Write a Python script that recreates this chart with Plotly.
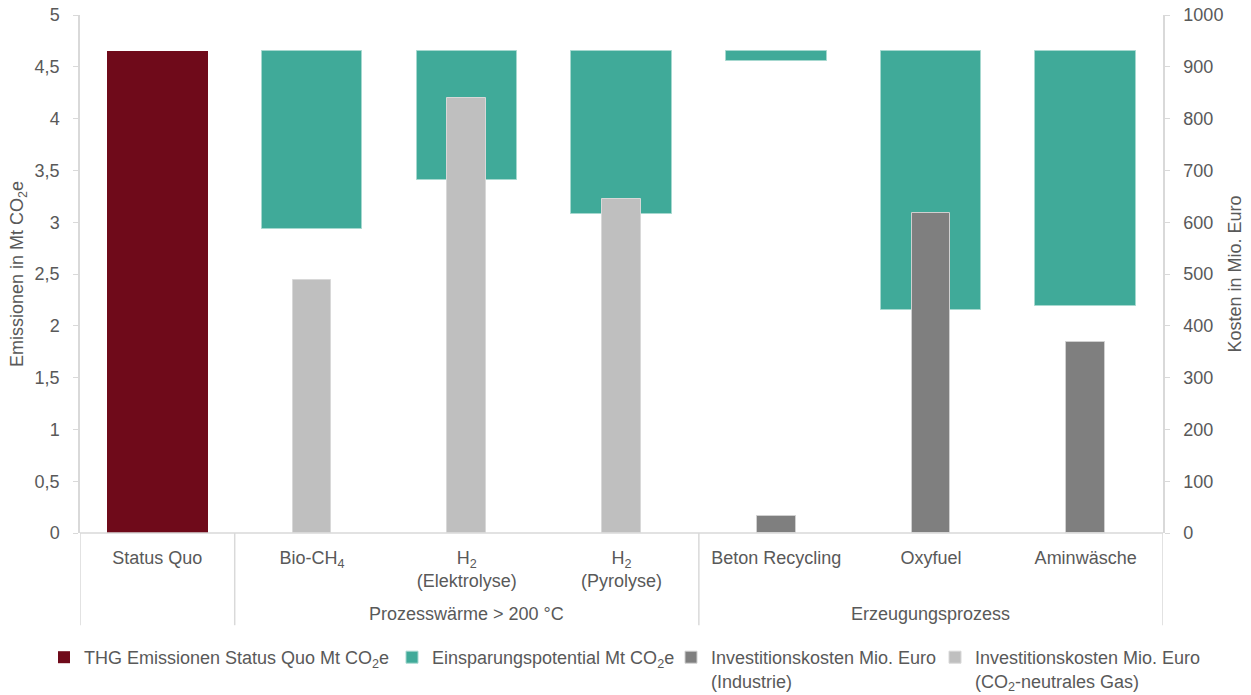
import plotly.graph_objects as go

# Categories (x axis) and their group labels
categories = ["Status Quo", "Bio-CH<sub>4</sub>", "H<sub>2</sub><br>(Elektrolyse)",
              "H<sub>2</sub><br>(Pyrolyse)", "Beton Recycling", "Oxyfuel", "Aminwäsche"]
groups = [("Prozesswärme > 200 °C", 1, 3), ("Erzeugungsprozess", 4, 6)]

# Emissions (Mt CO2e)
status_quo = 4.65
savings = [None, 1.72, 1.24, 1.57, 0.09, 2.50, 2.46]

# Investment costs (Mio. Euro)
cost_industry = [None, None, None, None, 33, 618, 369]
cost_gas = [None, 488, 839, 644, None, None, None]

# Axis tick labels
left_ticks = [0, 0.5, 1, 1.5, 2, 2.5, 3, 3.5, 4, 4.5, 5]
left_text = ["0", "0,5", "1", "1,5", "2", "2,5", "3", "3,5", "4", "4,5", "5"]
right_ticks = [0, 100, 200, 300, 400, 500, 600, 700, 800, 900, 1000]
right_text = [str(v) for v in right_ticks]

FONT = "Liberation Sans, Arial, sans-serif"
TXT = "#595959"
AX = "#d9d9d9"
FS = 18
W, H = 1251, 695

xs = list(range(len(categories)))
base = [None if s is None else status_quo - s for s in savings]

fig = go.Figure()
fig.add_trace(go.Bar(
    x=[0], y=[status_quo], width=0.65, yaxis="y", legend="legend",
    marker=dict(color="#6f0a1a", line=dict(width=0)),
    name="THG Emissionen Status Quo Mt CO<sub>2</sub>e"))
fig.add_trace(go.Bar(
    x=xs, y=savings, base=base, width=0.65, yaxis="y", legend="legend2",
    marker=dict(color="#40aa99", line=dict(color="#a6d8cf", width=1)),
    name="Einsparungspotential Mt CO<sub>2</sub>e"))
fig.add_trace(go.Bar(
    x=xs, y=cost_industry, width=0.25, yaxis="y2", legend="legend3",
    marker=dict(color="#7f7f7f", line=dict(color="#d0d0d0", width=1)),
    name="Investitionskosten Mio. Euro<br>(Industrie)"))
fig.add_trace(go.Bar(
    x=xs, y=cost_gas, width=0.25, yaxis="y2", legend="legend4",
    marker=dict(color="#bfbfbf", line=dict(color="#d8d8d8", width=1)),
    name="Investitionskosten Mio. Euro<br>(CO<sub>2</sub>-neutrales Gas)"))

# Category separators below the axis
shapes = []
for xv in [-0.5, 0.5, 3.5, 6.5]:
    shapes.append(dict(type="line", xref="x", yref="paper", x0=xv, x1=xv,
                       y0=0, y1=-0.178, line=dict(color=AX, width=1.5)))
shapes.append(dict(type="line", xref="paper", yref="paper", x0=0, x1=1,
                   y0=0, y1=0, line=dict(color=AX, width=1.5)))

annotations = []
for label, a, b in groups:
    annotations.append(dict(x=(a + b) / 2, y=-0.157, xref="x", yref="paper",
                            text=label, showarrow=False, yanchor="middle",
                            font=dict(family=FONT, size=FS, color=TXT)))


def legend_at(px):
    # one legend box per series, placed along the bottom row
    return dict(orientation="h", xref="container", yref="container",
                x=px / W, xanchor="left", y=1 - 639 / H, yanchor="top",
                valign="top", font=dict(size=FS, color=TXT), itemwidth=30,
                bgcolor="rgba(0,0,0,0)")


fig.update_layout(
    width=W, height=H,
    margin=dict(l=80, r=88, t=15, b=162, autoexpand=False),
    paper_bgcolor="white", plot_bgcolor="white",
    barmode="overlay", bargap=0,
    font=dict(family=FONT, size=FS, color=TXT),
    xaxis=dict(range=[-0.5, 6.5], tickvals=xs, ticktext=categories,
               showline=False, showgrid=False, zeroline=False, ticks="",
               automargin=False,
               ticklabelstandoff=12, tickfont=dict(size=FS, color=TXT)),
    yaxis=dict(range=[0, 5], tickvals=left_ticks, ticktext=left_text,
               showgrid=False, zeroline=False, showline=True, linecolor=AX,
               linewidth=1.5, ticks="outside", ticklen=5, tickcolor=AX,
               automargin=False,
               ticklabelstandoff=10, tickfont=dict(size=FS, color=TXT),
               title=dict(text="Emissionen in Mt CO<sub>2</sub>e", standoff=6,
                          font=dict(size=FS, color=TXT))),
    yaxis2=dict(range=[0, 1000], overlaying="y", side="right",
                tickvals=right_ticks, ticktext=right_text,
                showgrid=False, zeroline=False, showline=True, linecolor=AX,
                linewidth=1.5, ticks="outside", ticklen=5, tickcolor=AX,
                automargin=False,
                ticklabelstandoff=10, tickfont=dict(size=FS, color=TXT),
                title=dict(text="Kosten in Mio. Euro", standoff=6,
                           font=dict(size=FS, color=TXT))),
    legend=legend_at(44),
    legend2=legend_at(392),
    legend3=legend_at(671),
    legend4=legend_at(935),
    shapes=shapes, annotations=annotations,
    showlegend=True,
)

fig.write_html("out.html")
